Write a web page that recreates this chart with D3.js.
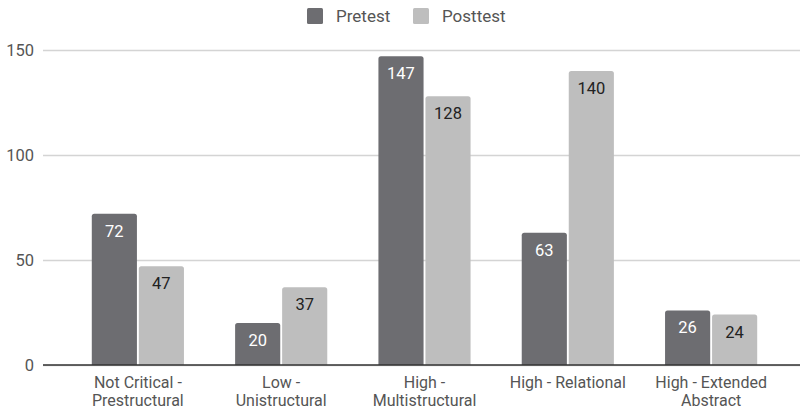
<!DOCTYPE html>
<html>
<head>
<meta charset="utf-8">
<script src="https://cdn.jsdelivr.net/npm/d3@7"></script>
<style>
	body { margin: 0; background: #fff; }
	text { font-family: Roboto, "Noto Sans", sans-serif; }
</style>
</head>
<body>
<div id="chart"></div>
<script>
'use strict';

// data
var categories = [
	['Not Critical -', 'Prestructural'],
	['Low -', 'Unistructural'],
	['High -', 'Multistructural'],
	['High - Relational'],
	['High - Extended', 'Abstract']
];
var seriesNames = ['Pretest', 'Posttest'];
var pretest = [72, 20, 147, 63, 26];
var posttest = [47, 37, 128, 140, 24];
var yTicks = [0, 50, 100, 150];

var WIDTH = 804,
	HEIGHT = 411;

var colors = ['#6d6d71', '#bebebe'],
	labelColors = ['#ffffff', '#222222'];

var svg = d3.select('#chart').append('svg')
	.attr('width', WIDTH)
	.attr('height', HEIGHT);

var y = d3.scaleLinear().domain([0, 150]).range([365, 50]);

var x0 = d3.scaleBand()
	.domain(d3.range(categories.length))
	.range([66, 783])
	.paddingInner(0.357)
	.paddingOuter(0.18);

var x1 = d3.scaleBand()
	.domain(d3.range(seriesNames.length))
	.range([0, x0.bandwidth()])
	.paddingInner(0.04);

// gridlines + y labels
var yAxis = svg.append('g')
	.attr('transform', 'translate(43,0)')
	.call(d3.axisLeft(y).tickValues(yTicks).tickSize(-757).tickPadding(9));
yAxis.select('.domain').remove();
yAxis.selectAll('.tick line').attr('stroke', '#d4d4d4').attr('stroke-width', 1.3);
yAxis.selectAll('.tick text')
	.attr('fill', '#555')
	.style('font-size', '16.5px');

// bars
var rows = categories.map(function(c, i) { return [pretest[i], posttest[i]]; });

var groups = svg.selectAll('.group')
	.data(rows)
	.enter().append('g')
		.attr('class', 'group')
		.attr('transform', function(d, i) { return 'translate(' + x0(i) + ',0)'; });

groups.selectAll('path')
	.data(function(d) { return d; })
	.enter().append('path')
		.attr('fill', function(d, j) { return colors[j]; })
		.attr('d', function(d, j) {
			var bx = x1(j), bw = x1.bandwidth(), top = y(d), bot = y(0), r = 2.5;
			return 'M' + bx + ',' + bot + 'V' + (top + r) +
				'Q' + bx + ',' + top + ' ' + (bx + r) + ',' + top +
				'H' + (bx + bw - r) +
				'Q' + (bx + bw) + ',' + top + ' ' + (bx + bw) + ',' + (top + r) +
				'V' + bot + 'Z';
		});

groups.selectAll('.val')
	.data(function(d) { return d; })
	.enter().append('text')
		.attr('class', 'val')
		.attr('x', function(d, j) { return x1(j) + x1.bandwidth() / 2; })
		.attr('y', function(d) { return y(d) + 23; })
		.attr('text-anchor', 'middle')
		.attr('fill', function(d, j) { return labelColors[j]; })
		.style('font-size', '16.5px')
		.text(function(d) { return d; });

// baseline
svg.append('line')
	.attr('x1', 43).attr('x2', 800)
	.attr('y1', y(0)).attr('y2', y(0))
	.attr('stroke', '#333').attr('stroke-width', 1.5);

// category labels
var catLabels = svg.selectAll('.cat')
	.data(categories)
	.enter().append('text')
		.attr('class', 'cat')
		.attr('text-anchor', 'middle')
		.attr('fill', '#555')
		.style('font-size', '16px');
catLabels.selectAll('tspan')
	.data(function(d, i) { return d.map(function(t) { return { t: t, i: i }; }); })
	.enter().append('tspan')
		.attr('x', function(d) { return x0(d.i) + x0.bandwidth() / 2; })
		.attr('y', function(d, k) { return 388 + k * 18; })
		.text(function(d) { return d.t; });

// legend
var legendX = [307, 413];
var legend = svg.selectAll('.legend')
	.data(seriesNames)
	.enter().append('g')
		.attr('class', 'legend')
		.attr('transform', function(d, i) { return 'translate(' + legendX[i] + ',8)'; });
legend.append('rect')
	.attr('width', 16).attr('height', 16).attr('rx', 1.5)
	.attr('fill', function(d, i) { return colors[i]; });
legend.append('text')
	.attr('x', 29).attr('y', 14)
	.attr('fill', '#555')
	.style('font-size', '17px')
	.text(function(d) { return d; });
</script>
</body>
</html>
